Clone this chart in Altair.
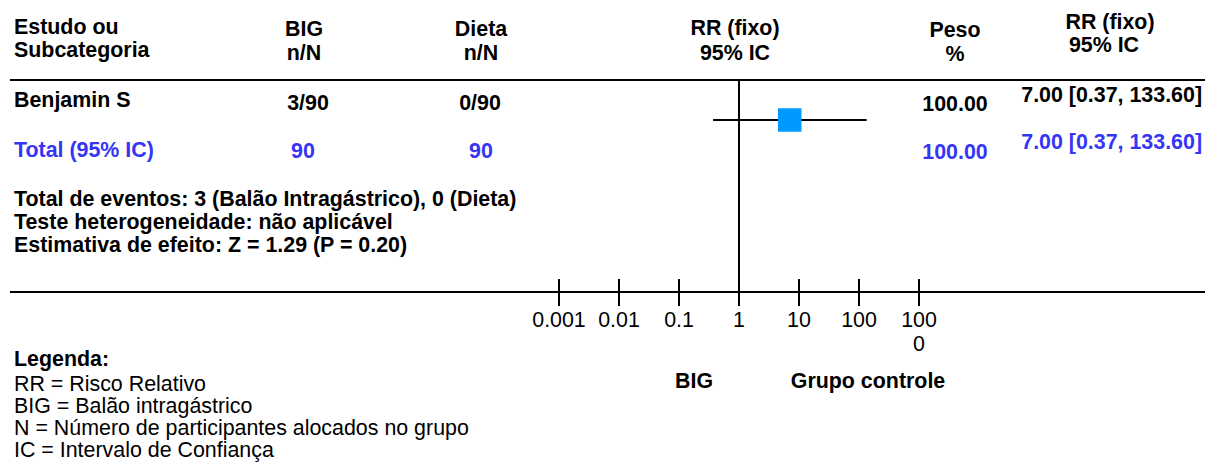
import altair as alt
import pandas as pd

# --- study data -------------------------------------------------------------
studies = ["Benjamin S"]
big_events = [3]
big_total = [90]
diet_events = [0]
diet_total = [90]
weights = [100.00]
rr = [7.00]
ci_low = [0.37]
ci_high = [133.60]

# pooled (fixed effect) estimate
pooled_rr = 7.00
pooled_low = 0.37
pooled_high = 133.60

axis_ticks = [0.001, 0.01, 0.1, 1, 10, 100, 1000]

summary_lines = [
    "Total de eventos: 3 (Balão Intragástrico), 0 (Dieta)",
    "Teste heterogeneidade: não aplicável",
    "Estimativa de efeito: Z = 1.29 (P = 0.20)",
]
legend_title = "Legenda:"
legend_lines = [
    "RR = Risco Relativo",
    "BIG = Balão intragástrico",
    "N = Número de participantes alocados no grupo",
    "IC = Intervalo de Confiança",
]

# --- styling ----------------------------------------------------------------
FONT = "Liberation Sans, Arial, sans-serif"
FS = 21.4
BLACK = "#000000"
BLUE = "#3535f5"
SQUARE = "#0099ff"

one = alt.Data(values=[{}])
xscale = alt.Scale(type="log", domain=[0.001, 1000], range=[559, 919])


def label(text, x, y, align="left", bold=True, color=BLACK, size=FS):
    return alt.Chart(one).mark_text(
        text=text, align=align, baseline="alphabetic", font=FONT,
        fontSize=size, fontWeight="bold" if bold else "normal", color=color,
    ).encode(x=alt.value(x), y=alt.value(y))


def field_label(df, col, x, y, align="center", color=BLACK):
    return alt.Chart(df).mark_text(
        align=align, baseline="alphabetic", font=FONT, fontSize=FS,
        fontWeight="bold", color=color,
    ).encode(text=f"{col}:N", x=alt.value(x), y=alt.value(y))


def fmt_ci(est, lo, hi):
    return f"{est:.2f} [{lo:.2f}, {hi:.2f}]"


rows = pd.DataFrame({
    "study": studies,
    "big": [f"{e}/{n}" for e, n in zip(big_events, big_total)],
    "diet": [f"{e}/{n}" for e, n in zip(diet_events, diet_total)],
    "weight": [f"{w:.2f}" for w in weights],
    "ci": [fmt_ci(a, b, c) for a, b, c in zip(rr, ci_low, ci_high)],
    "rr": rr, "lo": ci_low, "hi": ci_high,
})
total = pd.DataFrame({
    "big": [str(sum(big_total))],
    "diet": [str(sum(diet_total))],
    "weight": [f"{sum(weights):.2f}"],
    "ci": [fmt_ci(pooled_rr, pooled_low, pooled_high)],
})
ticks = pd.DataFrame({
    "v": axis_ticks,
    "lab": [("100\n0" if t == 1000 else f"{t:g}") for t in axis_ticks],
})
ref = pd.DataFrame({"v": [1]})

layers = []

# header
layers += [
    label("Estudo ou", 14, 34), label("Subcategoria", 14, 57),
    label("BIG", 304, 36, "center"), label("n/N", 304, 60, "center"),
    label("Dieta", 481, 36, "center"), label("n/N", 481, 60, "center"),
    label("RR (fixo)", 735, 35, "center"), label("95% IC", 735, 60, "center"),
    label("Peso", 955, 37, "center"), label("%", 955, 61, "center"),
    label("RR (fixo)", 1110, 29, "center"), label("95% IC", 1104, 52, "center"),
]

# horizontal rules (header separator and axis line)
for yy in (80, 292):
    layers.append(
        alt.Chart(one).mark_rule(color=BLACK, strokeWidth=2).encode(
            x=alt.value(10), x2=alt.value(1205), y=alt.value(yy))
    )

# line of no effect
layers.append(
    alt.Chart(ref).mark_rule(color=BLACK, strokeWidth=2).encode(
        x=alt.X("v:Q", scale=xscale, axis=None),
        y=alt.value(80), y2=alt.value(306))
)

# axis ticks and labels
layers.append(
    alt.Chart(ticks).mark_rule(color=BLACK, strokeWidth=2).encode(
        x=alt.X("v:Q", scale=xscale, axis=None),
        y=alt.value(279), y2=alt.value(306))
)
layers.append(
    alt.Chart(ticks).mark_text(
        align="center", baseline="alphabetic", font=FONT, fontSize=FS,
        color=BLACK, lineBreak="\n", lineHeight=24,
    ).encode(x=alt.X("v:Q", scale=xscale, axis=None), y=alt.value(327),
             text="lab:N")
)
layers += [
    label("BIG", 694, 388, "center"),
    label("Grupo controle", 868, 388, "center"),
]

# study row
layers += [
    field_label(rows, "study", 14, 107, "left"),
    field_label(rows, "big", 308, 110),
    field_label(rows, "diet", 480, 110),
    field_label(rows, "weight", 955, 111),
    field_label(rows, "ci", 1202, 102, "right"),
]
layers.append(
    alt.Chart(rows).mark_rule(color=BLACK, strokeWidth=2).encode(
        x=alt.X("lo:Q", scale=xscale, axis=None), x2="hi:Q",
        y=alt.value(120))
)
layers.append(
    alt.Chart(rows).mark_square(color=SQUARE, opacity=1, size=552).encode(
        x=alt.X("rr:Q", scale=xscale, axis=None), y=alt.value(120))
)

# total row
layers += [
    label("Total (95% IC)", 14, 157, color=BLUE),
    field_label(total, "big", 303, 158, color=BLUE),
    field_label(total, "diet", 481, 158, color=BLUE),
    field_label(total, "weight", 955, 159, color=BLUE),
    field_label(total, "ci", 1202, 149, "right", color=BLUE),
]

# summary statistics
for i, line in enumerate(summary_lines):
    layers.append(label(line, 14, 206 + 23 * i))

# legend
layers.append(label(legend_title, 14, 366))
for i, line in enumerate(legend_lines):
    layers.append(label(line, 14, 391 + 22 * i, bold=False))

chart = alt.layer(*layers).properties(
    width=1212, height=471,
    autosize=alt.AutoSizeParams(type="none"),
    padding=0,
    background="white",
).configure_view(stroke=None)

chart.save("out.html", embed_options={"renderer": "svg", "actions": False})
